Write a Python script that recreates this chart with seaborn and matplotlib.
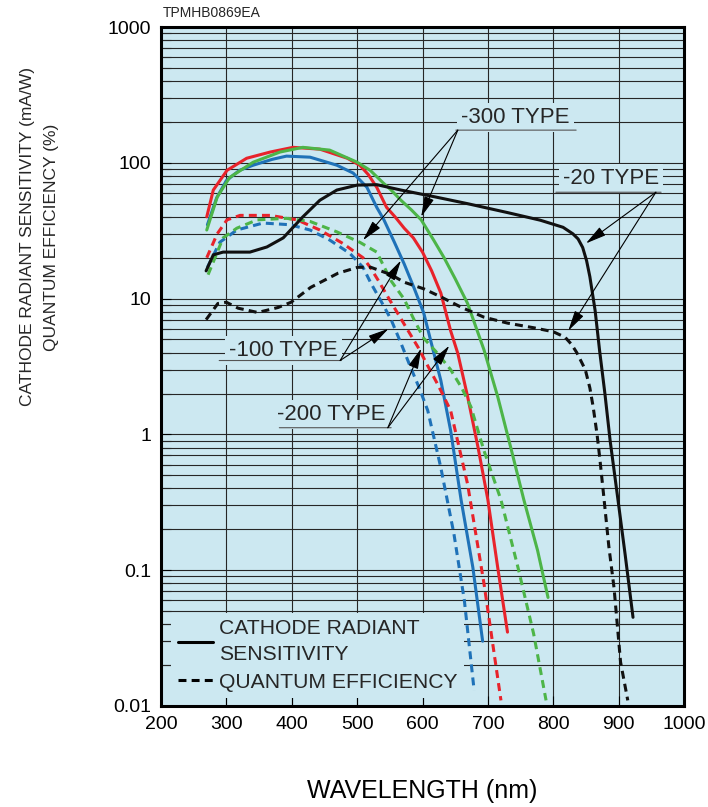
import numpy as np
import pandas as pd
import matplotlib
matplotlib.use("Agg")
import matplotlib.pyplot as plt
import seaborn as sns
from matplotlib.lines import Line2D
from matplotlib.ticker import FixedLocator, FixedFormatter, LogLocator, NullFormatter

# ---------------- data ----------------
# -100 TYPE (blue)
wl_100_crs = [271, 285, 300, 320, 341, 370, 392, 428, 469, 494, 515, 530, 541, 557, 572, 587, 602, 615, 628, 643, 659, 677, 692]
val_100_crs = [35, 55, 74, 88, 96, 106, 112, 110, 96, 84, 66, 47, 38, 26, 18, 12, 7.8, 4.4, 2.5, 1.07, 0.33, 0.105, 0.03]
wl_100_qe = [271, 290, 316, 356, 397, 428, 458, 489, 509, 521, 537, 552, 567, 582, 595, 608, 628, 648, 664, 679]
val_100_qe = [17, 26, 32, 36, 35, 32, 27, 21.5, 17, 13, 9.5, 7, 4.7, 3.1, 2.2, 1.5, 0.57, 0.186, 0.06, 0.013]

# -200 TYPE (red)
wl_200_crs = [270, 280, 301, 331, 367, 402, 443, 485, 504, 517, 530, 545, 558, 572, 586, 600, 614, 628, 643, 654, 669, 685, 700, 715, 730]
val_200_crs = [40, 63, 88, 108, 120, 130, 126, 108, 96, 82, 66, 47, 40, 33, 28, 22, 16, 11, 5.8, 3.95, 1.9, 0.8, 0.33, 0.105, 0.035]
wl_200_qe = [270, 286, 301, 321, 367, 408, 443, 478, 509, 520, 532, 547, 562, 578, 593, 608, 624, 643, 669, 694, 720]
val_200_qe = [20, 30, 38, 41, 41, 38, 32, 25.5, 20, 17, 13.7, 10.3, 7.8, 5.8, 4.4, 3.2, 2.3, 1.5, 0.43, 0.08, 0.011]

# -300 TYPE (green)
wl_300_crs = [270, 286, 305, 341, 382, 417, 458, 500, 520, 540, 552, 567, 583, 598, 617, 633, 650, 669, 694, 715, 735, 755, 776, 792]
val_300_crs = [32, 56, 78, 101, 120, 130, 124, 101, 88, 71, 63, 53, 45, 38, 27, 20, 14, 9.2, 4.2, 1.9, 0.8, 0.33, 0.14, 0.063]
wl_300_qe = [272, 295, 316, 347, 392, 428, 469, 504, 530, 552, 572, 587, 602, 620, 643, 660, 674, 694, 720, 746, 770, 789]
val_300_qe = [15, 28, 33, 38, 39, 37, 31, 26, 22, 13.5, 9.9, 7.0, 5.1, 4.1, 3.0, 2.2, 1.6, 0.76, 0.33, 0.105, 0.034, 0.011]

# -20 TYPE (black)
wl_20_crs = [269, 280, 295, 336, 362, 387, 417, 443, 469, 500, 530, 567, 620, 669, 730, 780, 815, 830, 838, 845, 851, 856, 864, 871, 879, 887, 899, 910, 922]
val_20_crs = [16, 21, 22, 22, 24, 28, 40, 53, 63, 68.5, 69, 63, 56, 50, 43, 37.8, 33.5, 30, 27.5, 23.8, 19, 14.5, 8.2, 4.1, 2.0, 0.9, 0.33, 0.13, 0.045]
wl_20_qe = [269, 287, 300, 318, 348, 379, 399, 429, 471, 501, 521, 552, 572, 602, 628, 660, 694, 730, 770, 800, 818, 828, 836, 849, 856, 861, 867, 871, 877, 885, 893, 903, 914]
val_20_qe = [7, 9.2, 9.4, 8.5, 7.9, 8.6, 9.4, 12.1, 15.4, 17, 17, 15, 13.2, 11.8, 10.3, 8.6, 7.3, 6.6, 6.1, 5.7, 5.2, 4.6, 4.0, 3.0, 2.2, 1.6, 1.0, 0.68, 0.36, 0.15, 0.074, 0.021, 0.011]

types = ["-100", "-200", "-300", "-20"]
x_ticks = [200, 300, 400, 500, 600, 700, 800, 900, 1000]
y_ticks = [0.01, 0.1, 1, 10, 100, 1000]
y_tick_labels = ["0.01", "0.1", "1", "10", "100", "1000"]
legend_labels = ["CATHODE RADIANT\nSENSITIVITY", "QUANTUM EFFICIENCY"]

series = [
    ("-100", "CRS", wl_100_crs, val_100_crs), ("-100", "QE", wl_100_qe, val_100_qe),
    ("-200", "CRS", wl_200_crs, val_200_crs), ("-200", "QE", wl_200_qe, val_200_qe),
    ("-300", "CRS", wl_300_crs, val_300_crs), ("-300", "QE", wl_300_qe, val_300_qe),
    ("-20", "CRS", wl_20_crs, val_20_crs), ("-20", "QE", wl_20_qe, val_20_qe),
]
rows = []
for typ, q, wl, val in series:
    for w, v in zip(wl, val):
        rows.append({"type": typ, "qty": q, "wl": w, "val": v})
df = pd.DataFrame(rows)

# ---------------- style ----------------
sns.set_theme(style="ticks")
plt.rcParams["font.family"] = ["Liberation Sans", "DejaVu Sans"]

BG = "#cce8f1"
GRID = "#262626"
palette = {"-100": "#1f72b8", "-200": "#e8232b", "-300": "#4db548", "-20": "#111111"}
DASH = (2.6, 1.7)

fig = plt.figure(figsize=(7.08, 8.07), dpi=100)
fig.patch.set_facecolor("white")
ax = fig.add_axes([161 / 708, 1 - 706 / 807, (684 - 161) / 708, (706 - 27) / 807])
ax.set_facecolor(BG)
ax.set_yscale("log")

sns.lineplot(data=df, x="wl", y="val", hue="type", style="qty", hue_order=types,
             palette=palette, dashes={"CRS": "", "QE": DASH}, estimator=None,
             sort=False, linewidth=2.2, legend=False, ax=ax)

ax.set_xlim(200, 1000)
ax.set_ylim(0.01, 1000)
ax.xaxis.set_major_locator(FixedLocator(x_ticks))
ax.yaxis.set_major_locator(FixedLocator(y_ticks))
ax.yaxis.set_major_formatter(FixedFormatter(y_tick_labels))
ax.yaxis.set_minor_locator(LogLocator(base=10, subs=np.arange(2, 10), numticks=20))
ax.yaxis.set_minor_formatter(NullFormatter())

ax.set_axisbelow(True)
ax.grid(which="both", axis="y", color=GRID, linewidth=0.8)
ax.grid(which="major", axis="x", color=GRID, linewidth=0.8)
ax.tick_params(which="major", direction="in", length=7, width=0.8, labelsize=14, pad=7,
               colors="black")
ax.tick_params(which="minor", axis="y", direction="in", length=7, width=0.8)
for s in ax.spines.values():
    s.set_linewidth(2.2)
    s.set_color("black")

ax.set_xlabel("WAVELENGTH (nm)", fontsize=18, labelpad=33, color="black")
ax.set_ylabel("")
fig.text(40 / 708, 1 - 237 / 807, "CATHODE RADIANT SENSITIVITY (mA/W)\nQUANTUM EFFICIENCY (%)",
         rotation=90, ha="center", va="center", multialignment="center",
         fontsize=12.5, linespacing=1.75)
fig.text(163 / 708, 1 - 13 / 807, "TPMHB0869EA", fontsize=10, va="center", ha="left")

# legend
handles = [Line2D([], [], color="black", lw=2.2),
           Line2D([], [], color="black", lw=2.2, ls=(0, DASH))]
leg = ax.legend(handles, legend_labels, loc="lower left", bbox_to_anchor=(0.02, 0.012),
                borderaxespad=0, fontsize=15.2, frameon=True, facecolor=BG, edgecolor=BG,
                framealpha=1, fancybox=False, handlelength=1.65, handletextpad=0.3,
                labelspacing=0.38, borderpad=0.3)
leg.get_frame().set_linewidth(0)
for t in leg.get_texts():
    t.set_linespacing(1.5)

# annotations: label text, underline, arrows
ann = [
    # text, text position, underline (x0, x1, y), arrow origin, arrow targets
    ("-300 TYPE", (742, 217), (651, 835, 174), (654, 174), [(509, 26.9), (598, 40)]),
    ("-20 TYPE", (888, 77), (804, 965, 60.7), (957, 60.7), [(850, 25.5), (823, 5.8)]),
    ("-100 TYPE", (387, 4.15), (289, 476, 3.5), (474, 3.5), [(567, 19.1), (548, 6.0)]),
    ("-200 TYPE", (461, 1.40), (381, 552, 1.12), (547, 1.12), [(598, 4.3), (641, 4.5)]),
]
for txt, tpos, ul, org, targets in ann:
    ax.text(tpos[0], tpos[1], txt, fontsize=16, ha="center", va="center", zorder=6,
            bbox=dict(boxstyle="square,pad=0.18", facecolor=BG, edgecolor="none"))
    ax.annotate("", xy=(ul[1], ul[2]), xytext=(ul[0], ul[2]), zorder=6,
                arrowprops=dict(arrowstyle="-", color="#555555", lw=0.8,
                                shrinkA=0, shrinkB=0))
    for tgt in targets:
        ax.annotate("", xy=tgt, xytext=org, zorder=7,
                    arrowprops=dict(arrowstyle="-|>,head_length=0.9,head_width=0.22",
                                    color="black", lw=0.8, mutation_scale=14,
                                    shrinkA=0, shrinkB=0))

fig.savefig("out.png", dpi=100, facecolor="white")
